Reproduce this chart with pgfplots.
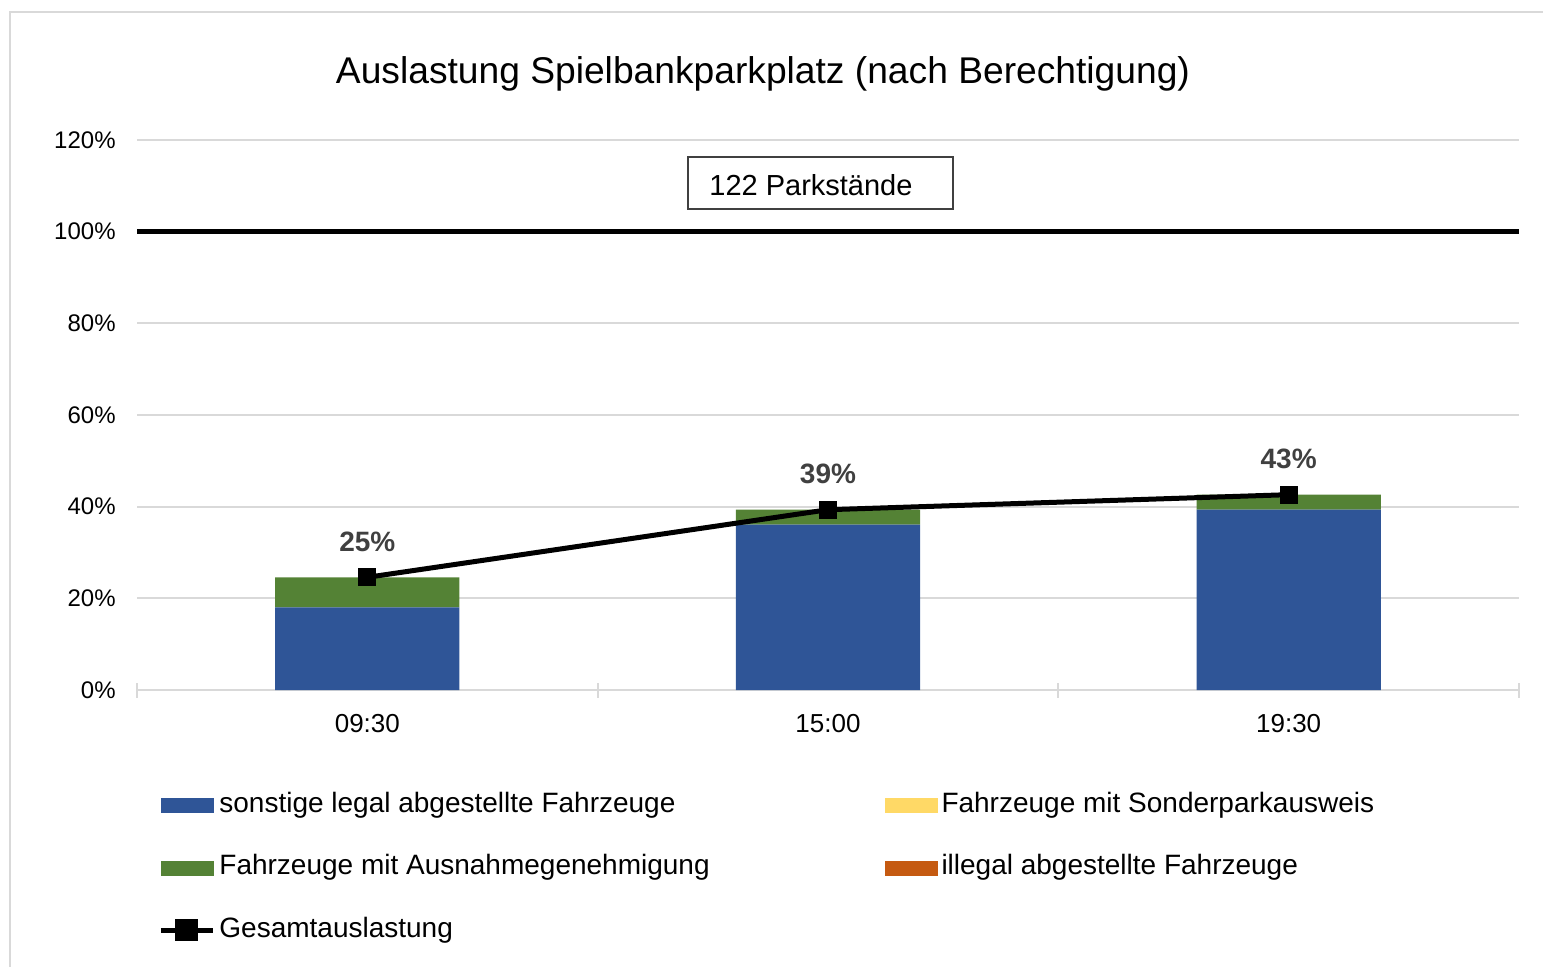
\documentclass[border=0pt]{standalone}
\usepackage{fontspec}
\setmainfont{Liberation Sans}
\usepackage{pgfplots}
\pgfplotsset{compat=1.18}
\definecolor{cblue}{HTML}{2F5597}
\definecolor{cgreen}{HTML}{548235}
\definecolor{cyellow}{HTML}{FFD966}
\definecolor{corange}{HTML}{C55A11}
\definecolor{cgrid}{HTML}{D9D9D9}
\definecolor{clab}{HTML}{404040}
\pgfplotsset{
    swatch/.style={legend image code/.code={\fill[#1] (0pt,-3.5pt) rectangle (26pt,3.5pt);}},
    frame/.style={at={(68.5pt,-345pt)}, anchor=south west,
        scale only axis, width=691pt, height=275pt,
        xmin=-0.5, xmax=2.5, ymin=0, ymax=1.2},
}

\begin{document}
\begin{tikzpicture}
% frame and title, in pixel units of the reference
\begin{scope}[x=0.5pt,y=-0.5pt]
\draw[cgrid, line width=1.3pt] (10,1100) -- (10,12) -- (1700,12);
\node[font=\fontsize{18.6}{22}\selectfont, anchor=base, inner sep=0pt] at (763,83) {Auslastung Spielbankparkplatz (nach Berechtigung)};
\end{scope}

% stacked bars
\begin{axis}[
    frame,
    ybar stacked, bar width=0.4,
    xtick={0,1,2}, xticklabels={09:30,15:00,19:30},
    minor xtick={-0.5,0.5,1.5,2.5},
    ytick={0,0.2,0.4,0.6,0.8,1,1.2},
    yticklabels={0\%,20\%,40\%,60\%,80\%,100\%,120\%},
    ymajorgrids, grid style={cgrid, line width=1pt},
    axis lines*=left,
    x axis line style={cgrid, line width=1pt},
    y axis line style={draw=none},
    major tick length=0pt, minor tick length=7.5pt, tick align=center,
    minor tick style={cgrid, line width=1pt},
    yticklabel style={font=\fontsize{12}{14}\selectfont, anchor=east, inner sep=0pt, xshift=-10.5pt},
    xticklabel style={font=\fontsize{13}{15}\selectfont, anchor=base, inner sep=0pt, yshift=-21pt},
]
\addplot[fill=cblue, draw=none] coordinates {(0,0.1803) (1,0.3607) (2,0.3934)};
\addplot[fill=cyellow, draw=none] coordinates {(0,0) (1,0) (2,0)};
\addplot[fill=cgreen, draw=none] coordinates {(0,0.0656) (1,0.0328) (2,0.0328)};
\addplot[fill=corange, draw=none] coordinates {(0,0) (1,0) (2,0)};
\draw[black, line width=2.8pt] (axis cs:-0.5,1) -- (axis cs:2.5,1);
\end{axis}

% total line and legend
\begin{axis}[
    frame, hide axis,
    legend columns=2, legend cell align=left,
    legend style={at={(0.0152,-0.1855)}, anchor=north west, draw=none, fill=none,
        inner sep=0pt, font=\fontsize{14}{16}\selectfont,
        nodes={inner sep=0pt, text height=10pt, text depth=3pt},
        row sep=18.25pt,
        /tikz/every odd column/.append style={column sep=2pt},
        /tikz/every even column/.append style={column sep=87.5pt}},
]
\addlegendimage{swatch=cblue}
\addlegendentry{sonstige legal abgestellte Fahrzeuge}
\addlegendimage{swatch=cyellow}
\addlegendentry{Fahrzeuge mit Sonderparkausweis}
\addlegendimage{swatch=cgreen}
\addlegendentry{Fahrzeuge mit Ausnahmegenehmigung}
\addlegendimage{swatch=corange}
\addlegendentry{illegal abgestellte Fahrzeuge}
\addplot[black, line width=2.5pt,
    mark=square*, mark size=4.25pt, mark options={line width=0.5pt},
    nodes near coords, point meta=explicit symbolic,
    every node near coord/.style={font=\bfseries\fontsize{14}{16}\selectfont, text=clab, anchor=base, yshift=13pt},
    legend image code/.code={\draw[black, line width=2.5pt] (0pt,0pt) -- (26pt,0pt);
        \fill[black] (8.5pt,-4.25pt) rectangle (17.5pt,4.25pt);}]
    coordinates {(0,0.2459) [25\%] (1,0.3934) [39\%] (2,0.4262) [43\%]};
\addlegendentry{Gesamtauslastung}
\end{axis}

\begin{scope}[x=0.5pt,y=-0.5pt]
\draw[black!75, line width=0.7pt] (688,157) rectangle (953,209);
\node[font=\fontsize{14.5}{16}\selectfont, anchor=base west, inner sep=0pt] at (709,195) {122 Parkstände};
\end{scope}
\pgfresetboundingbox
\useasboundingbox (0,0) rectangle (771.5pt,-483pt);
\end{tikzpicture}
\end{document}
